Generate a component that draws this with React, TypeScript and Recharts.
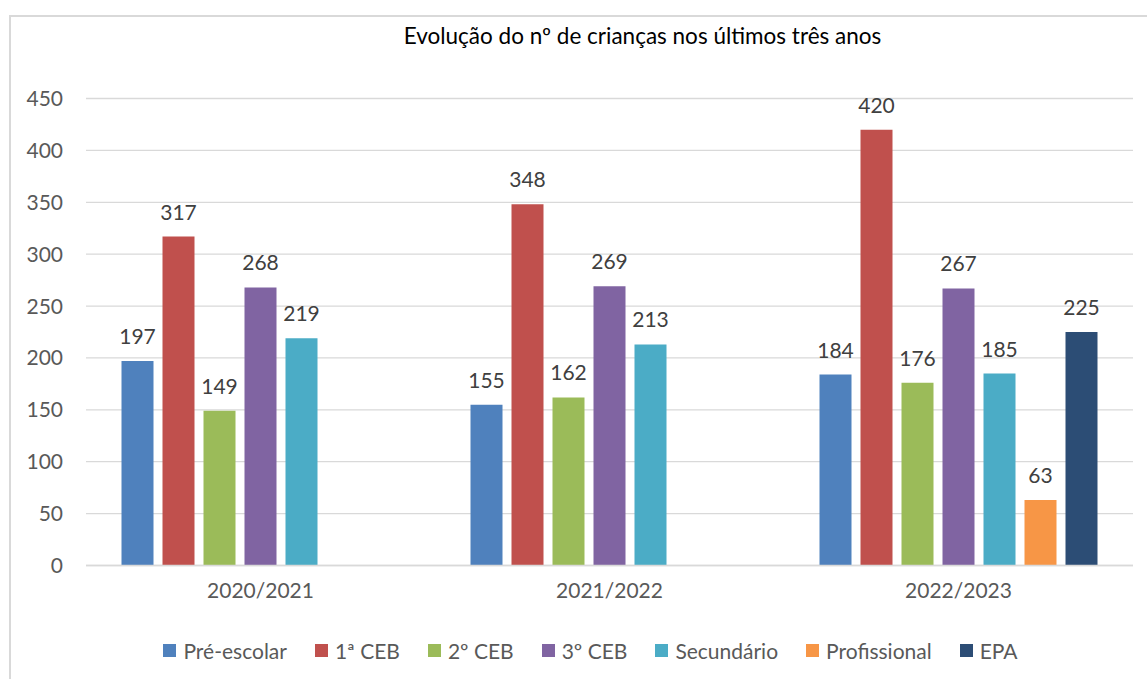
import React from "react";
import {
  BarChart,
  Bar,
  XAxis,
  YAxis,
  CartesianGrid,
  Legend,
  LabelList,
} from "recharts";

const categories = ["2020/2021", "2021/2022", "2022/2023"];
const preEscolar = [197, 155, 184];
const ceb1 = [317, 348, 420];
const ceb2 = [149, 162, 176];
const ceb3 = [268, 269, 267];
const secundario = [219, 213, 185];
const profissional = [null, null, 63];
const epa = [null, null, 225];
const yTicks = [0, 50, 100, 150, 200, 250, 300, 350, 400, 450];

const series = [
  { key: "pre", name: "Pré-escolar", color: "#4f81bd", values: preEscolar },
  { key: "ceb1", name: "1ª CEB", color: "#c0504d", values: ceb1 },
  { key: "ceb2", name: "2º CEB", color: "#9bbb59", values: ceb2 },
  { key: "ceb3", name: "3º CEB", color: "#8064a2", values: ceb3 },
  { key: "sec", name: "Secundário", color: "#4bacc6", values: secundario },
  { key: "prof", name: "Profissional", color: "#f79646", values: profissional },
  { key: "epa", name: "EPA", color: "#2c4d75", values: epa },
];

const chartData = categories.map((cat, i) => {
  const row: Record<string, string | number | null> = { year: cat };
  series.forEach((s) => {
    row[s.key] = s.values[i];
  });
  return row;
});

const FONT = "Lato, 'Noto Sans', sans-serif";

function LegendContent() {
  return (
    <div
      style={{
        display: "flex",
        justifyContent: "center",
        alignItems: "center",
        height: 24,
        paddingLeft: 34,
        fontFamily: FONT,
        fontSize: 21,
        color: "#595959",
      }}
    >
      {series.map((s, i) => (
        <div
          key={s.key}
          style={{
            display: "flex",
            alignItems: "center",
            marginRight: i === series.length - 1 ? 0 : 28,
          }}
        >
          <span
            style={{
              width: 13,
              height: 13,
              background: s.color,
              display: "inline-block",
              marginRight: 7,
            }}
          />
          <span>{s.name}</span>
        </div>
      ))}
    </div>
  );
}

export default function App() {
  return (
    <div
      style={{
        position: "absolute",
        left: 0,
        top: 0,
        width: 1147,
        height: 679,
        overflow: "hidden",
        background: "#fff",
        fontFamily: FONT,
      }}
    >
      <div
        style={{
          position: "absolute",
          left: 9,
          top: 15,
          width: 1200,
          height: 700,
          borderTop: "2px solid #d9d9d9",
          borderLeft: "2px solid #d9d9d9",
        }}
      />
      <div
        style={{
          position: "absolute",
          top: 22,
          left: 0,
          width: 1285,
          textAlign: "center",
          fontSize: 22.5,
          color: "#000",
        }}
      >
        Evolução do nº de crianças nos últimos três anos
      </div>
      <div style={{ position: "absolute", left: 0, top: 0 }}>
        <BarChart
          width={1147}
          height={679}
          data={chartData}
          margin={{ top: 98.5, right: 14, bottom: 17, left: 10 }}
          barCategoryGap={35.5}
          barGap={9}
        >
          <CartesianGrid
            vertical={false}
            stroke="#d9d9d9"
            strokeWidth={1.3}
          />
          <XAxis
            dataKey="year"
            height={72.5}
            axisLine={{ stroke: "#d9d9d9", strokeWidth: 1.3 }}
            tickLine={false}
            tickSize={0}
            tickMargin={18}
            tick={{ fill: "#595959", fontSize: 21 }}
          />
          <YAxis
            width={76}
            domain={[0, 450]}
            ticks={yTicks}
            axisLine={false}
            tickLine={false}
            tickSize={0}
            tickMargin={23}
            tick={{ fill: "#595959", fontSize: 21 }}
          />
          <Legend
            verticalAlign="bottom"
            wrapperStyle={{ left: 0, width: 1147 }}
            content={() => <LegendContent />}
          />
          {series.map((s) => (
            <Bar
              key={s.key}
              dataKey={s.key}
              name={s.name}
              fill={s.color}
              isAnimationActive={false}
            >
              <LabelList
                dataKey={s.key}
                position="top"
                offset={17}
                fill="#404040"
                fontSize={21}
              />
            </Bar>
          ))}
        </BarChart>
      </div>
    </div>
  );
}
